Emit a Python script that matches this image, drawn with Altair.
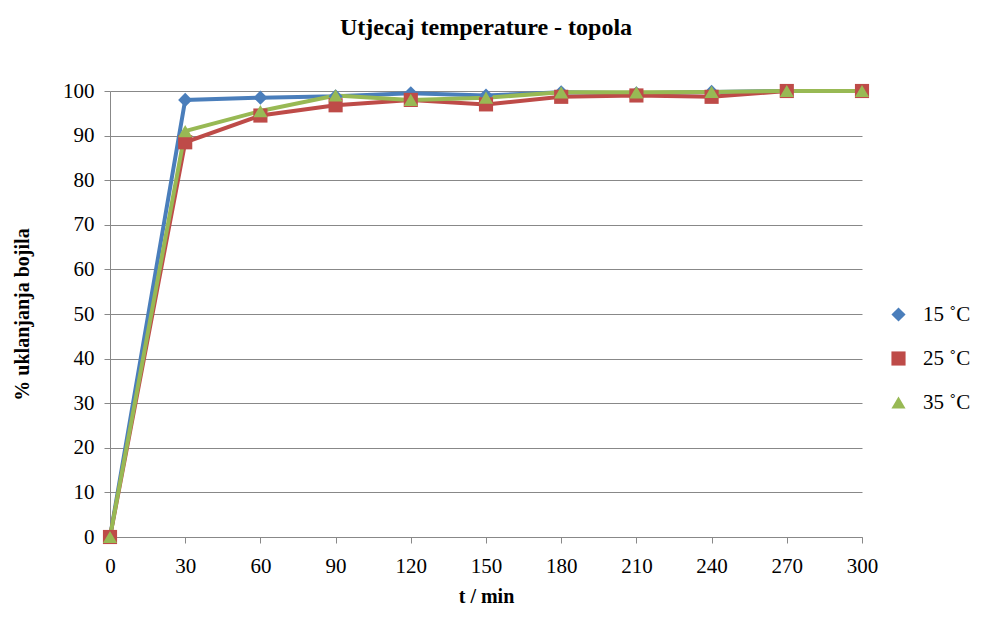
import altair as alt
import pandas as pd

times = [0, 30, 60, 90, 120, 150, 180, 210, 240, 270, 300]
t15 = [0, 98.0, 98.5, 98.8, 99.5, 99.0, 99.7, 99.5, 99.8, 100, 100]
t25 = [0, 88.5, 94.5, 96.8, 98.0, 97.0, 98.7, 99.0, 98.7, 100, 100]
t35 = [0, 91.0, 95.5, 99.0, 98.0, 98.5, 99.7, 99.7, 99.8, 100, 100]
series = ["15 ˚C", "25 ˚C", "35 ˚C"]
colors = ["#4a7ebb", "#be4b48", "#98b954"]
shapes = ["diamond", "square", "triangle-up"]

rows = []
for name, vals in zip(series, [t15, t25, t35]):
    for t, v in zip(times, vals):
        rows.append({"t": t, "v": v, "s": name})
df = pd.DataFrame(rows)

font = "Liberation Serif"
color = alt.Color("s:N", scale=alt.Scale(domain=series, range=colors),
                  legend=alt.Legend(title=None, orient="none", legendX=778, legendY=213,
                                    labelFont=font, labelFontSize=21, symbolSize=200,
                                    symbolStrokeWidth=0, rowPadding=22, labelOffset=14,
                                    labelColor="#000"))
shape = alt.Shape("s:N", scale=alt.Scale(domain=series, range=shapes), legend=alt.Legend(title=None))

base = alt.Chart(df).encode(
    x=alt.X("t:Q", title="t / min", scale=alt.Scale(domain=[0, 300], nice=False),
            axis=alt.Axis(values=times, grid=False, titleFont=font, titleFontSize=20,
                          labelFont=font, labelFontSize=21, labelColor="#000",
                          titleColor="#000", domainColor="#888", tickColor="#888",
                          tickSize=6, labelPadding=12, labelFlush=False, titlePadding=10)),
    y=alt.Y("v:Q", title="%  uklanjanja bojila", scale=alt.Scale(domain=[0, 100], nice=False),
            axis=alt.Axis(values=list(range(0, 101, 10)), gridColor="#888", domainColor="#888",
                          tickColor="#888", tickSize=6, titleFont=font, titleFontSize=20,
                          labelFont=font, labelFontSize=21, labelColor="#000",
                          titleColor="#000", labelPadding=10, titlePadding=30)),
    color=color,
)

lines = base.mark_line(strokeWidth=4)
points = base.mark_point(filled=True, size=200, opacity=1).encode(shape=shape)

chart = (lines + points).properties(
    width=752, height=446,
    autosize=alt.AutoSizeParams(type="none"),
    padding={"left": 102, "top": 83, "right": 127, "bottom": 76},
    title=alt.TitleParams("Utjecaj temperature - topola", font=font, fontSize=24,
                          fontWeight="bold", color="#000", offset=40),
).configure_view(stroke=None)

chart.save("out.html", embed_options={"renderer": "svg", "actions": False})
